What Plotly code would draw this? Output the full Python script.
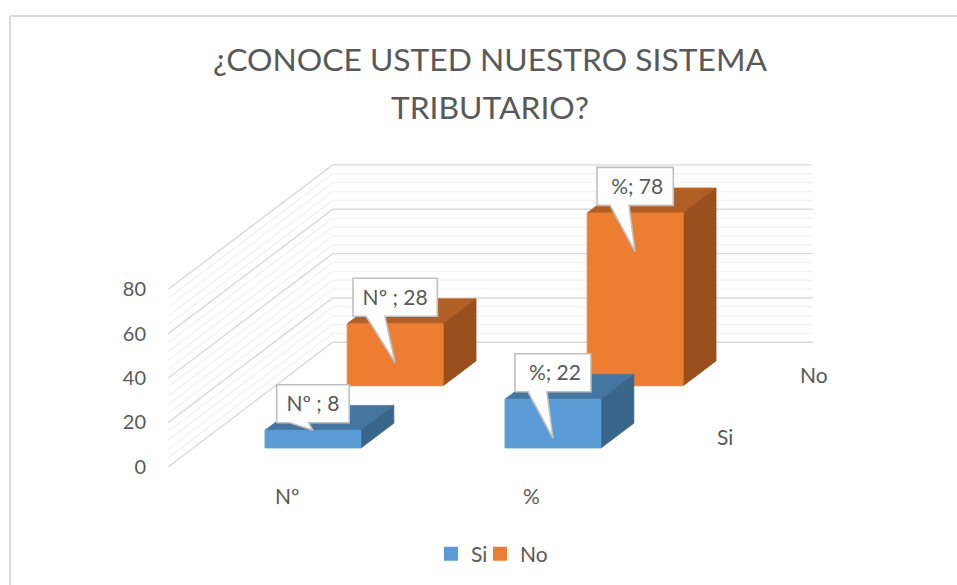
import plotly.graph_objects as go

title_lines = ["¿CONOCE USTED NUESTRO SISTEMA", "TRIBUTARIO?"]
categories = ["Nº", "%"]
series_names = ["Si", "No"]
si_values = [8, 22]
no_values = [28, 78]
value_ticks = [0, 20, 40, 60, 80]
minor_step = 4

# colours of the faces: front, top, side
si_colors = ("#5B9BD5", "#4576A2", "#3A658B")
no_colors = ("#ED7D31", "#B25F25", "#98501F")
text_color = "#595959"
font_name = "Lato"

# pixel scale of the oblique view
W, H = 957, 585
px_per_cat = 240.0
px_per_val = 2.2175
left_px = 168.3
zero_px = 466.7
axis_px = 147.0
depth_x = 82.2 / px_per_cat      # one series slot going back, in category units
depth_y = 62.2 / px_per_val      # same, in value units
bar_size = 0.4

# small nudges of the axis texts, in px
cat_shift = [-1, 3]
ser_shift = [36, 42]
label_shift = {"Nº": 0, "%": 2}


def project(c, s, v):
    return c + s * depth_x, v + s * depth_y


def poly(points):
    xs, ys = [], []
    for c, s, v in points:
        x, y = project(c, s, v)
        xs.append(x)
        ys.append(y)
    return xs, ys


def add_face(fig, points, color):
    xs, ys = poly(points + [points[0]])
    fig.add_trace(go.Scatter(x=xs, y=ys, mode="lines", fill="toself", fillcolor=color,
                             line=dict(color=color, width=0.75), showlegend=False, hoverinfo="skip"))


def add_bar(fig, cat, ser, value, colors):
    c0 = cat + 0.5 - bar_size / 2
    c1 = c0 + bar_size
    s0 = ser + 0.5 - bar_size / 2
    s1 = s0 + bar_size
    add_face(fig, [(c0, s0, value), (c1, s0, value), (c1, s1, value), (c0, s1, value)], colors[1])
    add_face(fig, [(c1, s0, 0), (c1, s1, 0), (c1, s1, value), (c1, s0, value)], colors[2])
    add_face(fig, [(c0, s0, 0), (c1, s0, 0), (c1, s0, value), (c0, s0, value)], colors[0])


def add_label(fig, cat, ser, value, text, width):
    # callout sits 7.5px over the front top edge, tail points into the front face
    c0 = cat + 0.5
    s0 = ser + 0.5 - bar_size / 2
    ax, ay = project(c0, s0, value)
    drop = 39 if value * px_per_val > 39 else 0
    hw = width / 2
    box = [(-hw, 7.5), (-hw + 13, 7.5), (0, -drop), (-hw + 32, 7.5), (hw, 7.5), (hw, 45.5), (-hw, 45.5), (-hw, 7.5)]
    xs = [ax + p[0] / px_per_cat for p in box]
    ys = [ay + p[1] / px_per_val for p in box]
    fig.add_trace(go.Scatter(x=xs, y=ys, mode="lines", fill="toself", fillcolor="white",
                             line=dict(color="#BFBFBF", width=1.6), showlegend=False, hoverinfo="skip"))
    tx = ax + label_shift[categories[cat]] / px_per_cat
    fig.add_trace(go.Scatter(x=[tx], y=[ay + 24.5 / px_per_val], mode="text", text=[text],
                             textfont=dict(family=font_name, size=21, color=text_color),
                             textposition="middle center", showlegend=False, hoverinfo="skip"))


fig = go.Figure()

# walls: minor lines first, major lines on top
minor_x, minor_y, major_x, major_y = [], [], [], []
n_cat = len(categories)
n_ser = len(series_names)
for v in range(value_ticks[0], value_ticks[-1] + 1, minor_step):
    xs, ys = poly([(0, 0, v), (0, n_ser, v), (n_cat, n_ser, v)])
    if v in value_ticks:
        major_x += xs + [None]
        major_y += ys + [None]
    else:
        minor_x += xs + [None]
        minor_y += ys + [None]
fig.add_trace(go.Scatter(x=minor_x, y=minor_y, mode="lines", line=dict(color="#F2F2F2", width=1.4),
                         showlegend=False, hoverinfo="skip"))
fig.add_trace(go.Scatter(x=major_x, y=major_y, mode="lines", line=dict(color="#D9D9D9", width=1.4),
                         showlegend=False, hoverinfo="skip"))

# back row first so the front row covers it
for i in range(n_cat):
    add_bar(fig, i, 1, no_values[i], no_colors)
for i in range(n_cat):
    add_bar(fig, i, 0, si_values[i], si_colors)

label_widths = {"Nº ; 8": 72.6, "Nº ; 28": 84.3, "%; 78": 76.3, "%; 22": 76}
for i in range(n_cat):
    sep = " ; " if categories[i] == "Nº" else "; "
    t = categories[i] + sep + str(no_values[i])
    add_label(fig, i, 1, no_values[i], t, label_widths[t])
for i in range(n_cat):
    sep = " ; " if categories[i] == "Nº" else "; "
    t = categories[i] + sep + str(si_values[i])
    add_label(fig, i, 0, si_values[i], t, label_widths[t])

# legend swatches, one legend per entry so the spacing can be set
for name, colors, lg in zip(series_names, [si_colors, no_colors], ["legend", "legend2"]):
    fig.add_trace(go.Scatter(x=[None], y=[None], mode="markers", name=name, legend=lg,
                             marker=dict(symbol="square", size=14, color=colors[0])))

axis_font = dict(family=font_name, size=21, color=text_color)
for i, cat in enumerate(categories):
    fig.add_annotation(x=i + 0.5, y=0, text=cat, showarrow=False, font=axis_font,
                       xshift=cat_shift[i], yshift=-29, xref="x", yref="y")
for j, name in enumerate(series_names):
    x, y = project(n_cat, j + 0.5, 0)
    fig.add_annotation(x=x, y=y, text=name, showarrow=False, font=axis_font,
                       xshift=ser_shift[j], yshift=-1, xref="x", yref="y")

# sheet edge behind the chart
edge = dict(color="#D9D9D9", width=2)
fig.add_shape(type="line", xref="paper", yref="paper", x0=10 / W, x1=1, y0=1 - 16 / H, y1=1 - 16 / H, line=edge)
fig.add_shape(type="line", xref="paper", yref="paper", x0=10 / W, x1=10 / W, y0=0, y1=1 - 16 / H, line=edge)

title_html = "<br>".join('<span style="font-size:31.8px">%s</span>' % t for t in title_lines)
fig.update_layout(
    width=W, height=H,
    margin=dict(l=0, r=0, t=0, b=0),
    paper_bgcolor="white", plot_bgcolor="white",
    title=dict(text=title_html, x=490 / W, xanchor="center", y=1 - 71 / H, yanchor="top",
               font=dict(family=font_name, size=37, color=text_color)),
    xaxis=dict(domain=[axis_px / W, 1], visible=False,
               range=[(axis_px - left_px) / px_per_cat, (W - left_px) / px_per_cat]),
    yaxis=dict(range=[(zero_px - H) / px_per_val, zero_px / px_per_val], tickmode="array",
               tickvals=value_ticks, showgrid=False, zeroline=False, showline=False, ticks="",
               tickfont=dict(family=font_name, size=20, color=text_color)),
    legend=dict(orientation="h", x=431 / W, xanchor="left", y=1 - 554 / H, yanchor="middle",
                font=axis_font, bgcolor="rgba(0,0,0,0)"),
    legend2=dict(orientation="h", x=480 / W, xanchor="left", y=1 - 554 / H, yanchor="middle",
                 font=axis_font, bgcolor="rgba(0,0,0,0)"),
)

fig.write_html("out.html", config=dict(displayModeBar=False),
               post_script="document.body.style.margin='0';document.body.style.overflow='hidden';")
